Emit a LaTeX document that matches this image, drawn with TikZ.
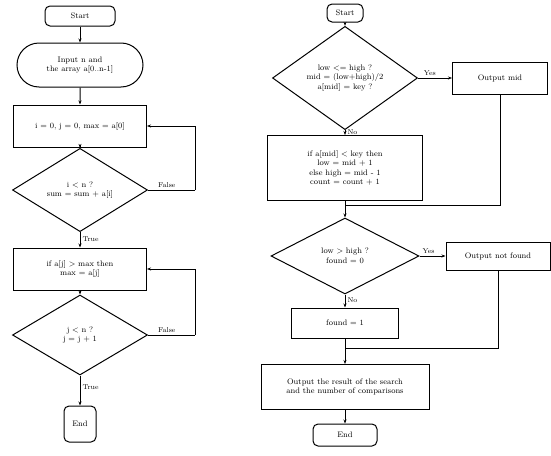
\documentclass[tikz,border=0pt]{standalone}
\usetikzlibrary{shapes.geometric,shapes.misc,arrows.meta}
\begin{document}
\begin{tikzpicture}[x=1pt,y=-1pt,
  every node/.style={font=\footnotesize, align=center, inner sep=2pt},
  flowbox/.style={draw, line width=1pt, rectangle},
  term/.style={draw, line width=1pt, rounded corners=5pt},
  io/.style={draw, line width=1pt, rounded rectangle},
  dec/.style={draw, line width=1pt, diamond, inner sep=0pt},
  lab/.style={font=\scriptsize},
  link/.style={line width=1pt, -{Stealth[length=4pt,width=3pt]}},
  seg/.style={line width=1pt}]
\useasboundingbox (0,0) rectangle (551,455);
\fill[white] (0,0) rectangle (551,455);

% ---------- left flowchart ----------
\node[term, minimum width=70, minimum height=20] (s1) at (80,16) {Start};
\node[io, minimum width=130, minimum height=44] (in1) at (80,65) {Input n and\\the array a[0..n-1]};
\node[flowbox, minimum width=133, minimum height=42] (p1) at (80,126) {i = 0, j = 0, max = a[0]};
\node[dec, minimum width=135, minimum height=80] (d1) at (80,190) {i \textless{} n ?\\sum = sum + a[i]};
\node[flowbox, minimum width=133, minimum height=42] (p2) at (80,269) {if a[j] \textgreater{} max then\\max = a[j]};
\node[dec, minimum width=135, minimum height=80] (d2) at (80,335) {j \textless{} n ?\\j = j + 1};
\node[term, minimum width=32, minimum height=36] (e1) at (80,424) {End};

\draw[link] (s1) -- (in1);
\draw[link] (in1) -- (p1);
\draw[link] (p1) -- (d1);
\draw[link] (d1) -- node[lab, right, pos=0.45] {True} (p2);
\draw[link] (p2) -- (d2);
\draw[link] (d2) -- node[lab, right, pos=0.4] {True} (e1);
\coordinate (c1) at (195,190);
\coordinate (c2) at (195,335);
\draw[seg] (d1.east) -- node[lab, above, pos=0.4] {False} (c1);
\draw[link] (c1) |- (p1.east);
\draw[seg] (d2.east) -- node[lab, above, pos=0.4] {False} (c2);
\draw[link] (c2) |- (p2.east);

% ---------- right flowchart ----------
\node[term, minimum width=36, minimum height=18] (s2) at (345,13) {Start};
\node[dec, minimum width=145, minimum height=95] (d3) at (345,78) {low \textless{}= high ?\\mid = (low+high)/2\\a[mid] = key ?};
\node[flowbox, minimum width=95, minimum height=32] (p3) at (500,78) {Output mid};
\node[flowbox, minimum width=155, minimum height=65] (p4) at (345,168) {if a[mid] \textless{} key then\\low = mid + 1\\else high = mid - 1\\count = count + 1};
\node[dec, minimum width=148, minimum height=76] (d4) at (345,256) {low \textgreater{} high ?\\found = 0};
\node[flowbox, minimum width=104, minimum height=28] (p5) at (498,256) {Output not found};
\node[flowbox, minimum width=107, minimum height=30] (p6) at (345,323) {found = 1};
\node[flowbox, minimum width=168, minimum height=45] (p7) at (345,387) {Output the result of the search\\and the number of comparisons};
\node[term, minimum width=64, minimum height=22] (e2) at (345,435) {End};

\coordinate (j1) at (345,205);
\coordinate (j2) at (345,348);
\draw[link] (s2) -- (d3);
\draw[link] (d3.east) -- node[lab, above, pos=0.35] {Yes} (p3.west);
\draw[link] (d3.south) -- node[lab, right, pos=0.4] {No} (p4.north);
\draw[link] (p4.south) -- (d4.north);
\draw[seg] (p3.south) |- (j1);
\draw[link] (d4.east) -- node[lab, above, pos=0.35] {Yes} (p5.west);
\draw[link] (d4.south) -- node[lab, right, pos=0.4] {No} (p6.north);
\draw[link] (p6.south) -- (p7.north);
\draw[seg] (p5.south) |- (j2);
\draw[link] (p7.south) -- (e2.north);
\end{tikzpicture}
\end{document}
